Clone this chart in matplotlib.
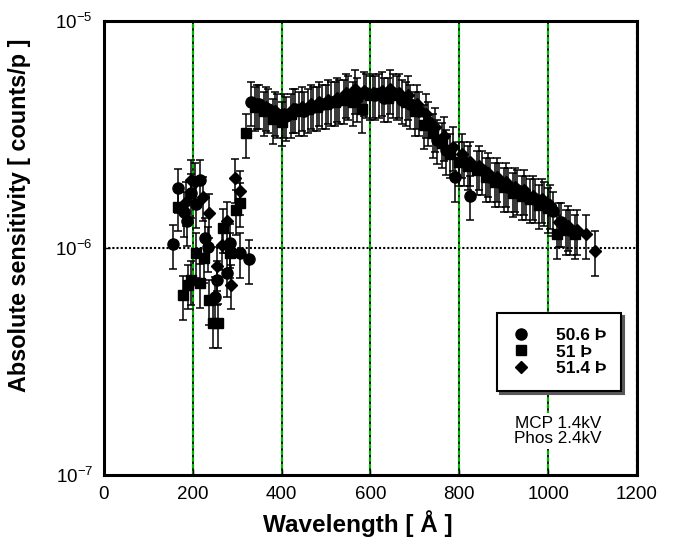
#!/usr/bin/env python3
"""Absolute sensitivity vs wavelength for three detector settings."""

import matplotlib
matplotlib.use("Agg")
import matplotlib.pyplot as plt
from matplotlib.lines import Line2D
from matplotlib.ticker import FixedLocator, NullLocator

plt.rcParams["font.family"] = ["Liberation Sans", "DejaVu Sans"]
plt.rcParams["mathtext.fontset"] = "custom"
plt.rcParams["mathtext.rm"] = "Liberation Sans"
plt.rcParams["mathtext.it"] = "Liberation Sans:italic"
plt.rcParams["mathtext.bf"] = "Liberation Sans:bold"

# wavelength [A] and sensitivity [1e-6 counts/p]
circle_x = [156, 167, 179, 186, 197, 207, 216, 227, 235, 250, 255, 276, 284, 306, 326,
            330, 350, 370, 390, 410, 430, 450, 470, 490, 510, 530, 550, 570, 590, 610,
            630, 650, 670, 690, 710, 730, 750, 770, 790, 810, 825, 850, 870, 890, 910,
            930, 950, 970, 990, 1010, 1030, 1050]
circle_y = [1.04, 1.83, 1.44, 1.31, 1.74, 1.57, 2.0, 1.11, 1.01, 0.61, 0.72, 0.78, 1.05, 0.95, 0.89,
            4.4, 4.3, 4.1, 3.9, 3.8, 4.1, 4.0, 4.2, 4.3, 4.4, 4.5, 4.7, 4.6, 4.8, 4.7,
            4.6, 4.8, 4.5, 4.3, 4.0, 3.6, 3.0, 2.7, 2.05, 2.4, 1.7, 2.2, 2.05, 1.95, 1.85,
            1.8, 1.7, 1.65, 1.6, 1.45, 1.3, 1.2]

square_x = [167, 177, 188, 197, 207, 216, 225, 237, 246, 257, 267, 284, 297, 306,
            320, 340, 360, 380, 400, 420, 440, 460, 480, 500, 520, 540, 560, 580, 600,
            620, 640, 660, 680, 700, 720, 740, 760, 780, 800, 820, 840, 860, 880, 900,
            920, 940, 960, 980, 1000, 1020, 1040, 1060]
square_y = [1.52, 0.62, 0.69, 0.72, 0.95, 0.70, 0.90, 0.59, 0.466, 0.466, 1.22, 0.95, 1.47, 1.58,
            3.2, 4.2, 4.0, 3.7, 3.6, 3.9, 4.0, 4.1, 4.2, 4.3, 4.4, 4.5, 4.4, 4.1, 4.7,
            4.8, 4.6, 4.7, 4.4, 4.0, 3.5, 3.2, 2.9, 2.6, 2.4, 2.3, 2.2, 2.05, 1.95, 1.85,
            1.75, 1.7, 1.65, 1.55, 1.5, 1.15, 1.2, 1.15]

diamond_x = [185, 195, 205, 224, 236, 255, 265, 276, 286, 295, 306,
             345, 365, 385, 405, 425, 445, 465, 485, 505, 525, 545, 565, 585, 605,
             625, 645, 665, 685, 705, 725, 745, 765, 785, 805, 825, 845, 865, 885,
             905, 925, 945, 965, 985, 1005, 1025, 1045, 1065, 1085, 1105]
diamond_y = [1.6, 2.0, 1.95, 1.68, 1.42, 0.83, 1.03, 1.31, 0.69, 2.03, 1.79,
             4.3, 4.2, 4.0, 3.9, 4.1, 4.2, 4.3, 4.4, 4.5, 4.6, 4.8, 5.0, 4.9, 4.8,
             4.9, 5.0, 4.8, 4.7, 4.3, 3.9, 3.4, 3.1, 2.8, 2.6, 2.4, 2.3, 2.15, 2.05,
             1.95, 1.85, 1.8, 1.7, 1.65, 1.55, 1.3, 1.25, 1.2, 1.15, 0.97]

REL_ERR = 0.22
labels = ["50.6 Þ", "51 Þ", "51.4 Þ"]
markers = [("o", 8.0), ("s", 7.3), ("D", 5.8)]


def main() -> int:
    fig = plt.figure(figsize=(6.74, 5.49), dpi=100)
    ax = fig.add_axes([0.1543, 0.1348, 0.7908, 0.8269])

    for x in [0, 200, 400, 600, 800, 1000, 1200]:
        ax.axvline(x, color="black", lw=1.3, zorder=1)
        ax.axvline(x, color="#00b400", lw=1.6, dashes=(2, 1), zorder=1.1)
    ax.axhline(1e-6, color="black", lw=1.5, ls=(0, (1, 1)), zorder=1)

    series = [(circle_x, circle_y), (square_x, square_y), (diamond_x, diamond_y)]
    for (xs, ys), (mk, ms) in zip(series, markers):
        yv = [v * 1e-6 for v in ys]
        err = [v * REL_ERR for v in yv]
        ax.errorbar(xs, yv, yerr=err, fmt=mk, ms=ms, color="black", ecolor="black",
                    elinewidth=1.1, capsize=3, capthick=1.1, zorder=3)

    ax.set_yscale("log")
    ax.set_xlim(0, 1200)
    ax.set_ylim(1e-7, 1e-5)
    ax.xaxis.set_major_locator(FixedLocator([0, 200, 400, 600, 800, 1000, 1200]))
    ax.yaxis.set_major_locator(FixedLocator([1e-7, 1e-6, 1e-5]))
    ax.yaxis.set_minor_locator(NullLocator())
    ax.set_yticklabels([r"$10^{-7}$", r"$10^{-6}$", r"$10^{-5}$"])
    ax.tick_params(direction="in", length=4, width=1, labelsize=13.5, pad=8)
    for spine in ax.spines.values():
        spine.set_linewidth(2.2)
        spine.set_zorder(4)

    ax.set_xlabel("Wavelength [ Å ]", fontsize=17.5, fontweight="bold")
    ax.xaxis.set_label_coords(0.477, -0.078)
    ax.set_ylabel("Absolute sensitivity [ counts/p ]", fontsize=16.8, fontweight="bold")
    ax.yaxis.set_label_coords(-0.137, 0.572)

    handles = [Line2D([], [], ls="none", marker=mk, ms=ms, color="black") for mk, ms in markers]
    leg = ax.legend(handles, labels, loc="center", bbox_to_anchor=(0.854, 0.271),
                    frameon=True, fancybox=False, shadow={"color": "0.35", "alpha": 1},
                    prop={"size": 12.5, "weight": "bold"}, handlelength=1.0,
                    handletextpad=1.5, labelspacing=0.1, borderpad=0.85)
    leg.get_frame().set_edgecolor("black")
    leg.get_frame().set_linewidth(1.5)
    leg.set_zorder(5)

    ax.text(1022, 1.56e-7, "MCP 1.4kV\nPhos 2.4kV", ha="center", va="center",
            fontsize=12.3, linespacing=1.05, zorder=5,
            bbox=dict(facecolor="white", edgecolor="none", pad=2))

    fig.savefig("out.png", dpi=100)
    plt.close(fig)
    return 0


if __name__ == "__main__":
    raise SystemExit(main())
